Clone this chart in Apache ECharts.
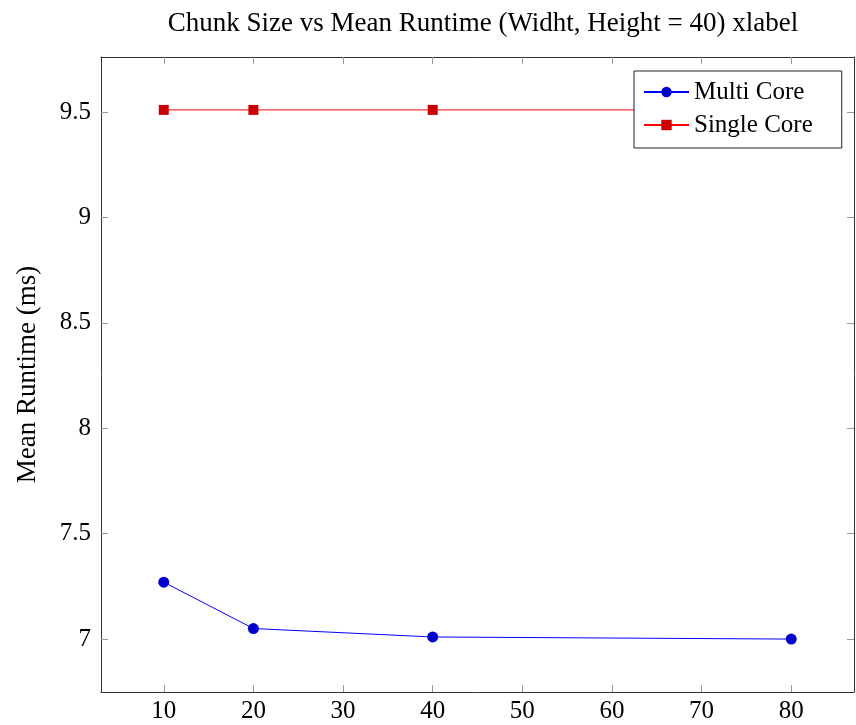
<!DOCTYPE html>
<html><head><meta charset="utf-8">
<script src="https://cdn.jsdelivr.net/npm/echarts@6/dist/echarts.min.js"></script>
<style>html,body{margin:0;padding:0;background:#fff}#c{width:856px;height:725px}</style>
</head><body><div id="c"></div>
<script>
const chunkSizes = [10, 20, 40, 80];
const multiCore = [7.27, 7.05, 7.01, 7.00];
const singleCore = [9.51, 9.51, 9.51, 9.51];
const xTicks = [10, 20, 30, 40, 50, 60, 70, 80];
const yTicks = [7, 7.5, 8, 8.5, 9, 9.5];

const font = '"Liberation Serif", "DejaVu Serif", serif';
const chart = echarts.init(document.getElementById('c'));
const tickStyle = {show: true, inside: true, length: 7, lineStyle: {color: '#999', width: 1}};
const lineStyleAxis = {show: true, onZero: false, lineStyle: {color: '#333', width: 1}};
const xBase = {type: 'value', min: 3, max: 87, interval: 10, splitLine: {show: false}, axisLine: lineStyleAxis,
  axisLabel: {show: true, color: '#000', fontFamily: font, fontSize: 25, margin: 7,
    customValues: xTicks, formatter: v => String(v)}};
const yBase = {type: 'value', min: 6.749, max: 9.761, splitLine: {show: false}, axisLine: lineStyleAxis,
  axisLabel: {show: true, color: '#000', fontFamily: font, fontSize: 25, margin: 10,
    customValues: yTicks, formatter: v => String(v)}};
chart.setOption({
  animation: false,
  title: {text: 'Chunk Size vs Mean Runtime (Widht, Height = 40) xlabel', left: 478, textAlign: 'center', top: 5,
    textStyle: {fontFamily: font, fontSize: 27, fontWeight: 'normal', color: '#000'}},
  grid: {left: 101, right: 2, top: 57, bottom: 33, containLabel: false},
  xAxis: [
    Object.assign({}, xBase, {position: 'bottom', axisTick: Object.assign({}, tickStyle, {customValues: xTicks})}),
    Object.assign({}, xBase, {position: 'top', axisLabel: {show: false}, axisTick: Object.assign({}, tickStyle, {customValues: xTicks})})
  ],
  yAxis: [
    Object.assign({}, yBase, {position: 'left', name: 'Mean Runtime (ms)', nameLocation: 'middle', nameGap: 60, nameRotate: 90,
      nameTextStyle: {fontFamily: font, fontSize: 27, color: '#000'}, axisTick: Object.assign({}, tickStyle, {customValues: yTicks})}),
    Object.assign({}, yBase, {position: 'right', axisLabel: {show: false}, axisTick: Object.assign({}, tickStyle, {customValues: yTicks})})
  ],
  legend: {
    left: 634, top: 71, orient: 'vertical', itemGap: 7, itemWidth: 45, itemHeight: 13,
    padding: [8, 29, 10, 9], backgroundColor: '#fff', borderColor: '#222', borderWidth: 1, borderRadius: 0,
    textStyle: {fontFamily: font, fontSize: 25, lineHeight: 26, color: '#000'},
    data: ['Multi Core', 'Single Core'], z: 10
  },
  series: [
    {name: 'Multi Core', type: 'line', data: chunkSizes.map((x, i) => [x, multiCore[i]]),
      symbol: 'circle', symbolSize: 11, lineStyle: {color: '#0000ff', width: 1}, itemStyle: {color: '#0000cc'}},
    {name: 'Single Core', type: 'line', data: chunkSizes.map((x, i) => [x, singleCore[i]]),
      symbol: 'rect', symbolSize: 10, lineStyle: {color: '#ff0000', width: 1}, itemStyle: {color: '#cc0000'}}
  ]
});
</script></body></html>
